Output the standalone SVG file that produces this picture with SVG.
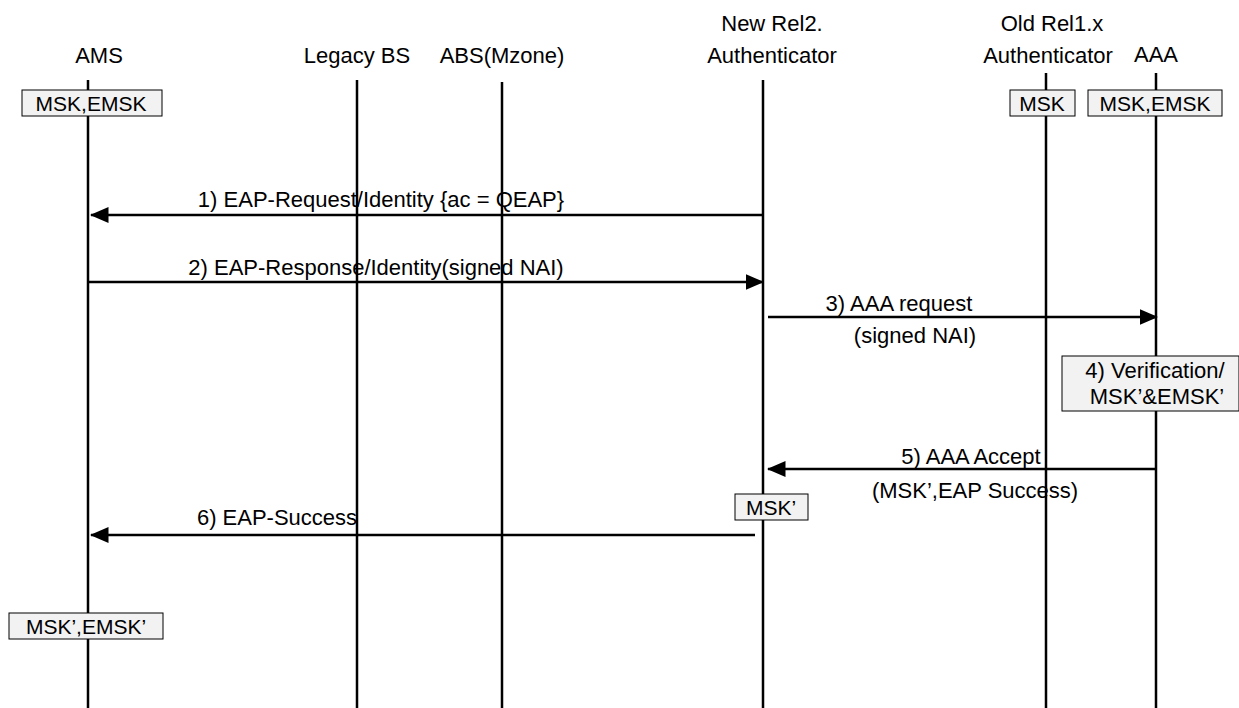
<svg xmlns="http://www.w3.org/2000/svg" width="1239" height="708" viewBox="0 0 1239 708">
<style>
text{font-family:"Liberation Sans",Arial,sans-serif;font-size:22px;fill:#000}
.life{stroke:#000;stroke-width:2.5}
.msg{stroke:#000;stroke-width:2.5;fill:none}
.box{fill:#f2f2f2;stroke:#000;stroke-width:1}
.c{text-anchor:middle}
</style>
<defs>
<marker id="ah" markerWidth="7.5" markerHeight="6.4" refX="7" refY="3.2" orient="auto" markerUnits="strokeWidth">
<path d="M0,0 L7.5,3.2 L0,6.4 Z" fill="#000"/>
</marker>
</defs>
<rect width="1239" height="708" fill="#fff"/>
<g id="ams">
<text class="c" x="99" y="63">AMS</text>
<line class="life" x1="88" y1="80" x2="88" y2="708"/>
<rect class="box" x="22" y="90" width="140" height="26"/>
<text class="c" x="91" y="111" style="font-size:21px">MSK,EMSK</text>
<rect class="box" x="9" y="613" width="154" height="26"/>
<text class="c" x="86" y="634" style="font-size:21px">MSK’,EMSK’</text>
</g>
<g id="legacy-bs">
<text class="c" x="357" y="63">Legacy BS</text>
<line class="life" x1="357" y1="80" x2="357" y2="708"/>
</g>
<g id="abs">
<text class="c" x="502" y="63">ABS(Mzone)</text>
<line class="life" x1="502" y1="82" x2="502" y2="708"/>
</g>
<g id="new-auth">
<text class="c" x="772" y="31">New Rel2.</text>
<text class="c" x="772" y="63">Authenticator</text>
<line class="life" x1="763" y1="80" x2="763" y2="708"/>
<rect class="box" x="735" y="494" width="73" height="26"/>
<text class="c" x="771" y="515" style="font-size:21px">MSK’</text>
</g>
<g id="old-auth">
<text class="c" x="1052" y="31">Old Rel1.x</text>
<text class="c" x="1048" y="63">Authenticator</text>
<line class="life" x1="1046" y1="73" x2="1046" y2="708"/>
<rect class="box" x="1010" y="90" width="65" height="26"/>
<text class="c" x="1042" y="111" style="font-size:21px">MSK</text>
</g>
<g id="aaa">
<text class="c" x="1156" y="62">AAA</text>
<line class="life" x1="1156" y1="73" x2="1156" y2="708"/>
<rect class="box" x="1088" y="90" width="134" height="26"/>
<text class="c" x="1155" y="111" style="font-size:21px">MSK,EMSK</text>
<rect class="box" x="1062" y="356" width="177" height="55"/>
<text class="c" x="1155" y="378">4) Verification/</text>
<text class="c" x="1157" y="404">MSK’&amp;EMSK’</text>
</g>
<g id="connectors">
<line class="msg" x1="763" y1="215" x2="91" y2="215" marker-end="url(#ah)"/>
<text class="c" x="381" y="207">1) EAP-Request/Identity {ac = QEAP}</text>
<line class="msg" x1="88" y1="282" x2="763" y2="282" marker-end="url(#ah)"/>
<text class="c" x="376" y="275">2) EAP-Response/Identity(signed NAI)</text>
<line class="msg" x1="768" y1="317" x2="1157" y2="317" marker-end="url(#ah)"/>
<text class="c" x="899" y="311">3) AAA request</text>
<text class="c" x="915" y="343">(signed NAI)</text>
<line class="msg" x1="1156" y1="469" x2="768" y2="469" marker-end="url(#ah)"/>
<text class="c" x="971" y="464">5) AAA Accept</text>
<text class="c" x="975" y="498">(MSK’,EAP Success)</text>
<line class="msg" x1="755" y1="535" x2="91" y2="535" marker-end="url(#ah)"/>
<text class="c" x="277" y="525">6) EAP-Success</text>
</g>
</svg>
